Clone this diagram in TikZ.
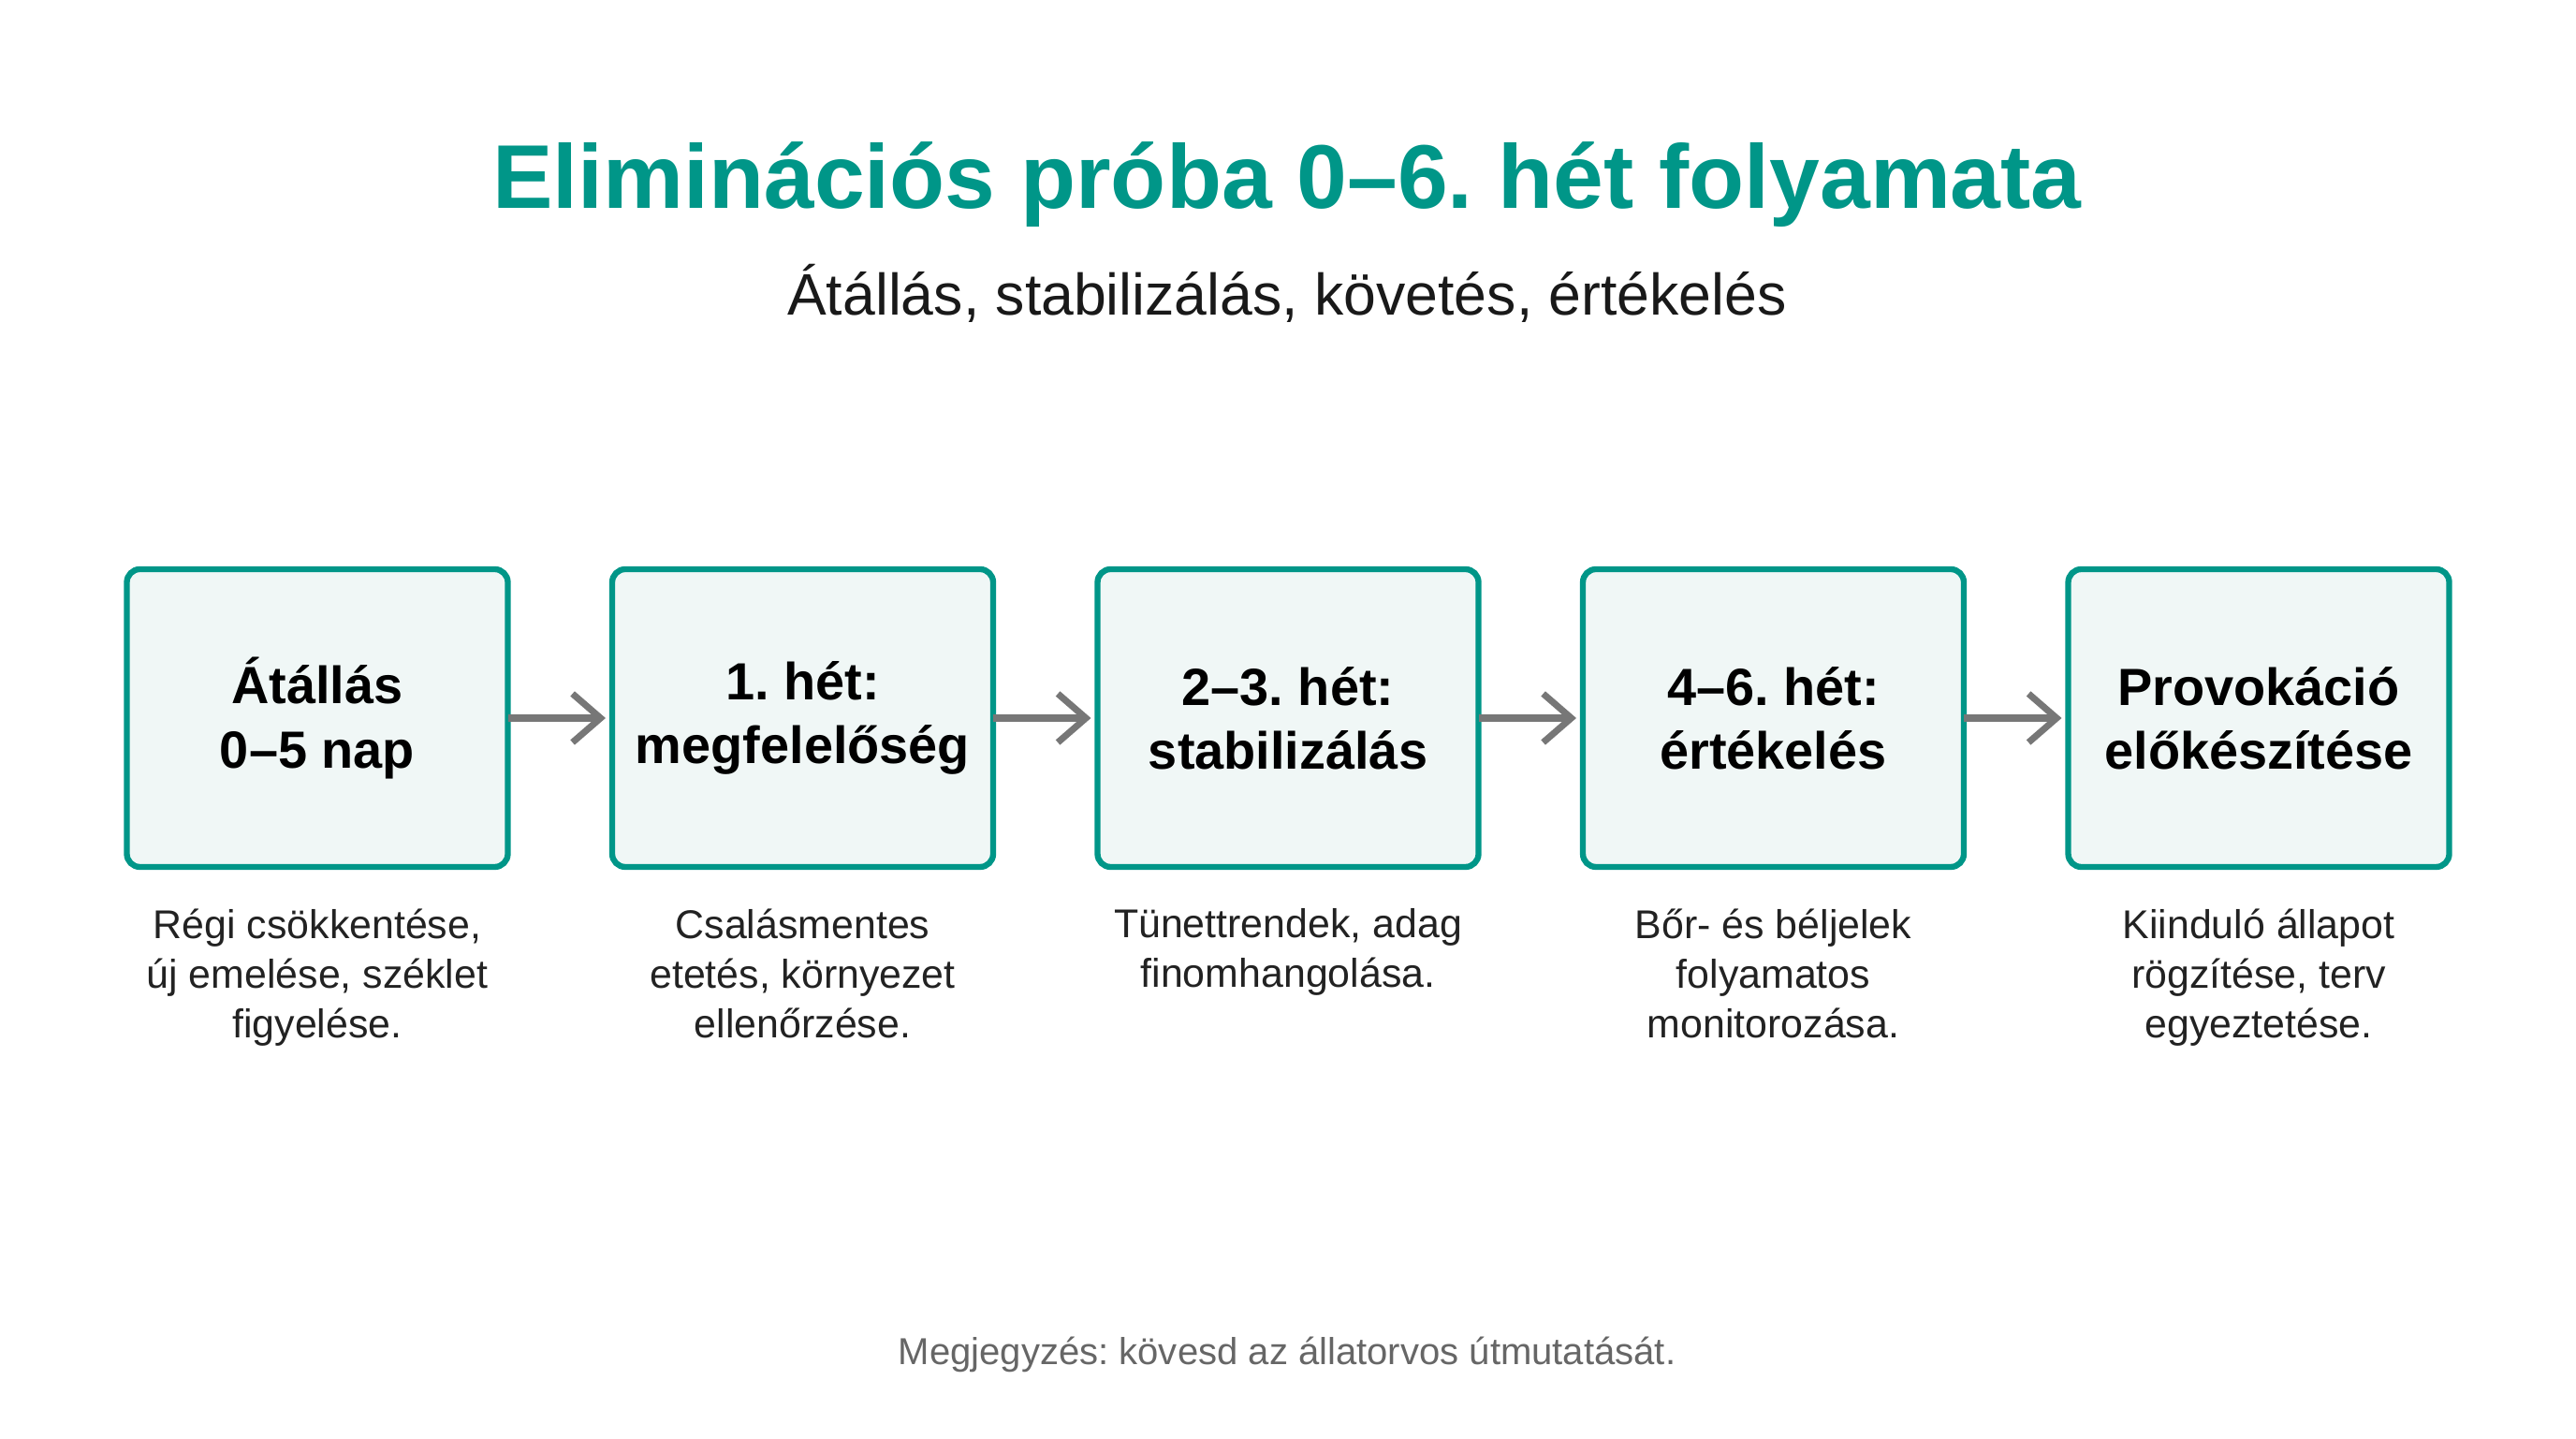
\documentclass[tikz,border=0pt]{standalone}
\usepackage{fontspec}
\setmainfont{Liberation Sans}
\usetikzlibrary{positioning,arrows.meta}

\definecolor{tealmain}{HTML}{009688}
\definecolor{tealfill}{HTML}{F0F7F6}
\definecolor{arrowgray}{HTML}{777777}
\definecolor{notegray}{HTML}{666666}
\definecolor{desctext}{HTML}{222222}
\frenchspacing

\begin{document}
\begin{tikzpicture}[->,>={Straight Barb[length=0.3cm,width=0.52cm]}, auto,
		step node/.style={rectangle, draw=tealmain, line width=1.8pt, fill=tealfill, rounded corners=0.14cm, minimum width=4.07cm, minimum height=3.18cm, outer sep=0pt, align=center, text=black, font=\fontsize{15.9}{19.4}\selectfont\bfseries},
		desc node/.style={align=center, inner sep=0pt, text=desctext, font=\fontsize{12.2}{15.1}\selectfont},
		flow/.style={draw=arrowgray, line width=2pt, shorten >=2pt}]

	\fill[white] (0,0) rectangle (27.52,15.36);
	\useasboundingbox (0,0) rectangle (27.52,15.36);

	\node[anchor=base, text=tealmain, font=\fontsize{27.5}{33}\selectfont\bfseries] (title) at (13.75,13.13) {Eliminációs próba 0–6. hét folyamata};
	\node[anchor=base, text=black!90, font=\fontsize{17.8}{22}\selectfont] (sub) at (13.75,11.99) {Átállás, stabilizálás, követés, értékelés};

	\node[step node] (1) at (3.39,7.69) {Átállás\\0–5 nap};
	\node[step node] (2) [right = 1.115cm of 1] {1. hét:\\megfelelőség};
	\node[step node] (3) [right = 1.115cm of 2] {2–3. hét:\\stabilizálás};
	\node[step node] (4) [right = 1.115cm of 3] {4–6. hét:\\értékelés};
	\node[step node] (5) [right = 1.115cm of 4] {Provokáció\\előkészítése};

	\node[desc node] (d1) [below = 0.44cm of 1] {Régi csökkentése,\\új emelése, széklet\\figyelése.};
	\node[desc node] (d2) [below = 0.44cm of 2] {Csalásmentes\\etetés, környezet\\ellenőrzése.};
	\node[desc node] (d3) [below = 0.44cm of 3] {Tünettrendek, adag\\finomhangolása.};
	\node[desc node] (d4) [below = 0.44cm of 4] {Bőr- és béljelek\\folyamatos\\monitorozása.};
	\node[desc node] (d5) [below = 0.44cm of 5] {Kiinduló állapot\\rögzítése, terv\\egyeztetése.};

	\node[anchor=base, text=notegray, font=\fontsize{11.4}{14}\selectfont] (note) at (13.75,0.79) {Megjegyzés: kövesd az állatorvos útmutatását.};

		\path	(1) 	edge[flow] (2);
		\path	(2) 	edge[flow] (3);
		\path	(3) 	edge[flow] (4);
		\path	(4) 	edge[flow] (5);
\end{tikzpicture}
\end{document}
